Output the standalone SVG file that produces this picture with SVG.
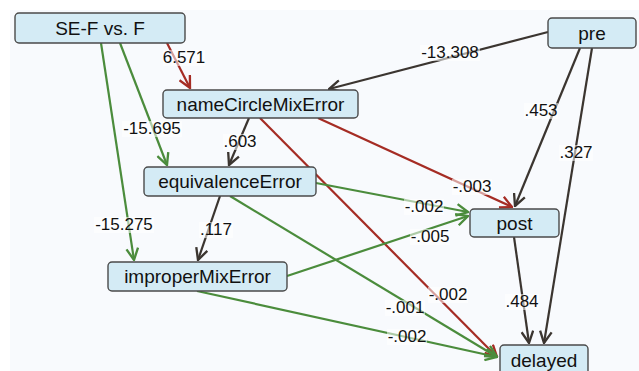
<svg xmlns="http://www.w3.org/2000/svg" width="639" height="371" viewBox="0 0 639 371">
<style>
.node rect{fill:#d4ebf5;stroke:#4a4a4a;stroke-width:1.4}
.node text{font-family:"Liberation Sans",Arial,sans-serif;font-size:19px;fill:#111;text-anchor:middle}
.e{fill:none;stroke-width:2.2}
.r{stroke:#a52c24}
.g{stroke:#4b8c3c}
.d{stroke:#3b3530}
.lbl rect{fill:#ffffff;fill-opacity:0.55}
.lbl text{font-family:"Liberation Sans",Arial,sans-serif;font-size:17px;fill:#111;text-anchor:middle}
</style>
<defs>
<marker id="ar" markerUnits="userSpaceOnUse" markerWidth="14" markerHeight="14" refX="10" refY="5" orient="auto" viewBox="-1 -1 12 12"><path d="M0,0 L10,5 L0,10" fill="none" stroke="#a52c24" stroke-width="2"/></marker>
<marker id="ag" markerUnits="userSpaceOnUse" markerWidth="14" markerHeight="14" refX="10" refY="5" orient="auto" viewBox="-1 -1 12 12"><path d="M0,0 L10,5 L0,10" fill="none" stroke="#4b8c3c" stroke-width="2"/></marker>
<marker id="ad" markerUnits="userSpaceOnUse" markerWidth="14" markerHeight="14" refX="10" refY="5" orient="auto" viewBox="-1 -1 12 12"><path d="M0,0 L10,5 L0,10" fill="none" stroke="#3b3530" stroke-width="2"/></marker>
</defs>
<rect width="639" height="371" fill="#ffffff"/>
<rect x="10" y="10" width="629" height="361" fill="#f8fafd"/>
<g id="connectors">
<line class="e r" x1="167" y1="43" x2="190" y2="88" marker-end="url(#ar)"/>
<line class="e g" x1="120" y1="43" x2="167" y2="165" marker-end="url(#ag)"/>
<line class="e g" x1="101" y1="43" x2="134" y2="260" marker-end="url(#ag)"/>
<line class="e d" x1="548" y1="32" x2="329" y2="89" marker-end="url(#ad)"/>
<line class="e d" x1="580" y1="48" x2="515" y2="206" marker-end="url(#ad)"/>
<line class="e d" x1="592" y1="48" x2="544" y2="343" marker-end="url(#ad)"/>
<line class="e d" x1="249" y1="118" x2="229" y2="165" marker-end="url(#ad)"/>
<line class="e r" x1="318" y1="118" x2="512" y2="207" marker-end="url(#ar)"/>
<line class="e r" x1="260" y1="118" x2="497" y2="357" marker-end="url(#ar)"/>
<line class="e g" x1="316" y1="183" x2="468" y2="212" marker-end="url(#ag)"/>
<line class="e g" x1="230" y1="196" x2="497" y2="357" marker-end="url(#ag)"/>
<line class="e d" x1="220" y1="196" x2="198" y2="260" marker-end="url(#ad)"/>
<line class="e g" x1="287" y1="276" x2="468" y2="216" marker-end="url(#ag)"/>
<line class="e g" x1="197" y1="291" x2="497" y2="357" marker-end="url(#ag)"/>
<line class="e d" x1="514" y1="237" x2="529" y2="343" marker-end="url(#ad)"/>
<g class="lbl">
<rect x="163" y="50" width="42" height="16"/><text x="184" y="63">6.571</text>
<rect x="122" y="121" width="60" height="16"/><text x="152" y="134">-15.695</text>
<rect x="94" y="217" width="60" height="16"/><text x="124" y="230">-15.275</text>
<rect x="420" y="45" width="60" height="16"/><text x="450" y="58">-13.308</text>
<rect x="524" y="103" width="34" height="16"/><text x="541" y="116">.453</text>
<rect x="559" y="145" width="34" height="16"/><text x="576" y="158">.327</text>
<rect x="223" y="134" width="34" height="16"/><text x="240" y="147">.603</text>
<rect x="452" y="179" width="40" height="16"/><text x="472" y="192">-.003</text>
<rect x="404" y="199" width="40" height="16"/><text x="424" y="212">-.002</text>
<rect x="410" y="229" width="40" height="16"/><text x="430" y="242">-.005</text>
<rect x="199" y="222" width="34" height="16"/><text x="216" y="235">.117</text>
<rect x="428" y="287" width="40" height="16"/><text x="448" y="300">-.002</text>
<rect x="385" y="300" width="40" height="16"/><text x="405" y="313">-.001</text>
<rect x="387" y="329" width="40" height="16"/><text x="407" y="342">-.002</text>
<rect x="505" y="294" width="34" height="16"/><text x="522" y="307">.484</text>
</g>
</g>
<g id="n-sef" class="node"><rect x="15" y="13" width="170" height="30" rx="4"/><text x="100" y="35">SE-F vs. F</text></g>
<g id="n-pre" class="node"><rect x="548" y="18" width="88" height="30" rx="4"/><text x="592" y="40">pre</text></g>
<g id="n-ncm" class="node"><rect x="163" y="90" width="195" height="28" rx="4"/><text x="260.5" y="111">nameCircleMixError</text></g>
<g id="n-eq" class="node"><rect x="144" y="167" width="172" height="29" rx="4"/><text x="230" y="188">equivalenceError</text></g>
<g id="n-imp" class="node"><rect x="108" y="262" width="179" height="29" rx="4"/><text x="197.5" y="283">improperMixError</text></g>
<g id="n-post" class="node"><rect x="470" y="209" width="89" height="28" rx="4"/><text x="514.5" y="230">post</text></g>
<g id="n-del" class="node"><rect x="500" y="345" width="88" height="30" rx="4"/><text x="544" y="367">delayed</text></g>
</svg>
